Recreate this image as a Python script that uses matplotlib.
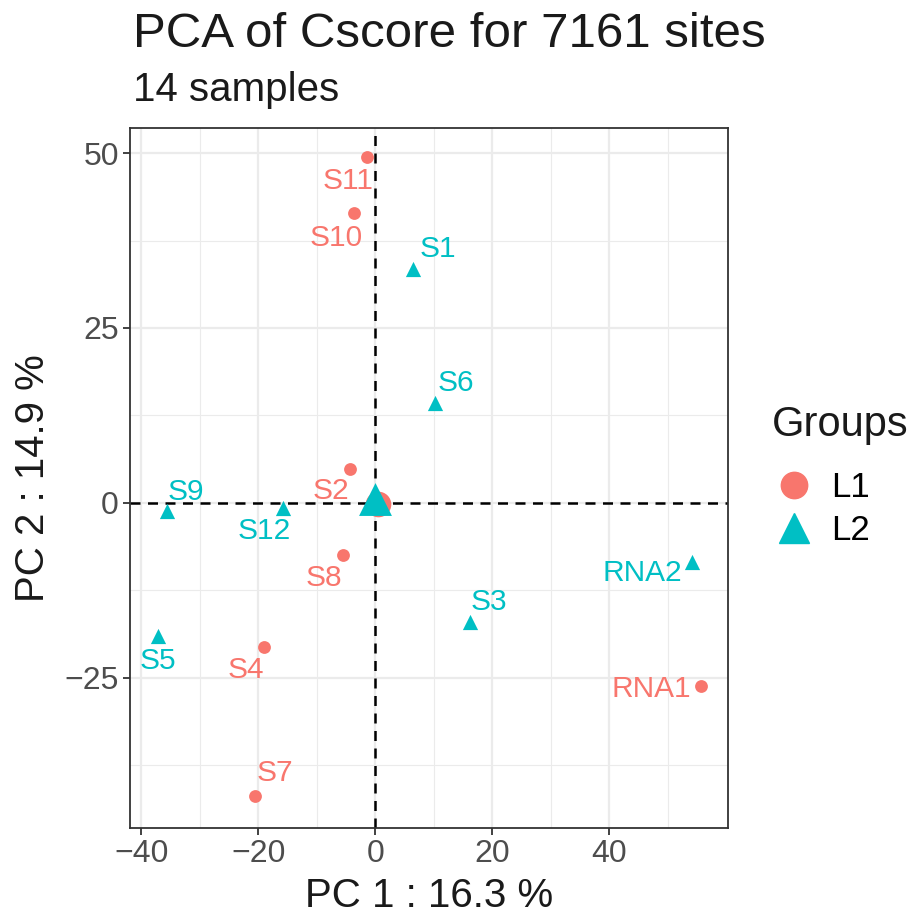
import matplotlib.pyplot as plt
from matplotlib.lines import Line2D

plt.rcParams['font.family'] = ['Liberation Sans', 'DejaVu Sans']

RED = "#F8766D"
TEAL = "#00BFC4"

# sample coordinates
samples = ["S11", "S10", "S2", "S8", "S4", "S7", "RNA1",
           "S1", "S6", "S9", "S12", "S3", "RNA2", "S5"]
groups = ["L1", "L1", "L1", "L1", "L1", "L1", "L1",
          "L2", "L2", "L2", "L2", "L2", "L2", "L2"]
pc1 = [-1.4, -3.6, -4.3, -5.5, -19.0, -20.5, 55.7,
       6.5, 10.3, -35.6, -15.7, 16.2, 54.2, -37.1]
pc2 = [49.4, 41.5, 4.9, -7.4, -20.6, -41.9, -26.2,
       33.4, 14.2, -1.2, -0.7, -17.0, -8.4, -19.1]

# group centroids (large markers)
cent_groups = ["L1", "L2"]
cent_pc1 = [0.5, 0.0]
cent_pc2 = [-0.1, 0.5]

# label offsets in pixels (ggrepel look)
label_off = {
    "S11": (-19, -24), "S10": (-18, -25), "S2": (-19, -22), "S8": (-19, -23),
    "S4": (-18, -23), "S7": (20, 23), "RNA1": (-50, -3),
    "S1": (25, 20), "S6": (20, 20), "S9": (19, 19), "S12": (-19, -23),
    "S3": (19, 20), "RNA2": (-50, -11), "S5": (0, -25),
}

colors = {"L1": RED, "L2": TEAL}
markers = {"L1": "o", "L2": "^"}

fig = plt.figure(figsize=(9.08, 9.14), dpi=100)
ax = fig.add_axes([0.1432, 0.0941, 0.6586, 0.7659])

ax.axvline(0, color="black", ls=(0, (4, 3)), lw=1.8, zorder=1)
ax.axhline(0, color="black", ls=(0, (4, 3)), lw=1.8, zorder=1)

for g in cent_groups:
    i = cent_groups.index(g)
    ax.scatter(cent_pc1[i], cent_pc2[i], s=560 if g == "L2" else 340,
               c=colors[g], marker=markers[g], linewidths=0, zorder=2)

for name, g, x, y in zip(samples, groups, pc1, pc2):
    ax.scatter(x, y, s=85 if g == "L1" else 120, c=colors[g],
               marker=markers[g], linewidths=0, zorder=3)
    dx, dy = label_off[name]
    ax.annotate(name, (x, y), xytext=(dx * 0.72, dy * 0.72),
                textcoords="offset points", ha="center", va="center",
                color=colors[g], fontsize=21.5, zorder=4)

ax.set_xlim(-41.9, 60.3)
ax.set_ylim(-46.5, 53.6)
ax.set_xticks([-40, -20, 0, 20, 40])
ax.set_xticklabels(["\u221240", "\u221220", "0", "20", "40"])
ax.set_yticks([-25, 0, 25, 50])
ax.set_yticklabels(["\u221225", "0", "25", "50"])
ax.set_xticks([-30, -10, 10, 30, 50], minor=True)
ax.set_yticks([-37.5, -12.5, 12.5, 37.5], minor=True)
ax.grid(which="major", color="#EBEBEB", lw=1.6, zorder=0)
ax.grid(which="minor", color="#EBEBEB", lw=0.8, zorder=0)
ax.set_axisbelow(True)
for s in ax.spines.values():
    s.set_color("#333333")
    s.set_linewidth(1.3)
ax.tick_params(which="major", length=5, width=1.3, color="#333333",
               labelsize=23, labelcolor="#4D4D4D", pad=3)
ax.tick_params(which="minor", length=0)

ax.set_xlabel("PC 1 : 16.3 %", fontsize=29, color="#1A1A1A", labelpad=6)
ax.set_ylabel("PC 2 : 14.9 %", fontsize=29, color="#1A1A1A", labelpad=9)

fig.text(0.1465, 0.962, "PCA of Cscore for 7161 sites", fontsize=35.5,
         color="#1A1A1A", va="center", ha="left")
fig.text(0.1465, 0.902, "14 samples", fontsize=29,
         color="#1A1A1A", va="center", ha="left")

# legend: title as separate text, keys below
fig.text(772 / 908, 1 - 425 / 914, "Groups", fontsize=30,
         color="#1A1A1A", va="center", ha="left")
handles = [Line2D([], [], ls="", marker="o", ms=19, color=RED, mec=RED),
           Line2D([], [], ls="", marker="^", ms=22, color=TEAL, mec=TEAL)]
leg = fig.legend(handles, ["L1", "L2"], loc="center left",
                 bbox_to_anchor=(770 / 908, 1 - 509 / 914), frameon=False,
                 fontsize=25, handletextpad=0.35, labelspacing=0.3,
                 borderpad=0, borderaxespad=0, handlelength=1.4)

fig.savefig("out.png", dpi=100, facecolor="white")
